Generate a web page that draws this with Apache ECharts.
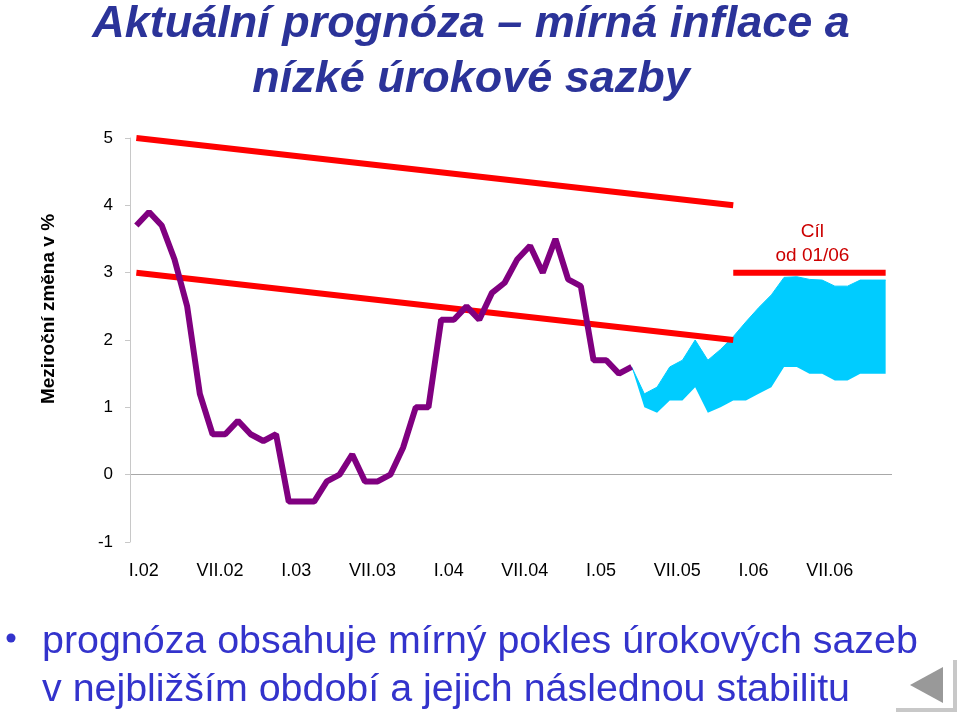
<!DOCTYPE html>
<html>
<head>
<meta charset="utf-8">
<script src="https://cdn.jsdelivr.net/npm/echarts@6/dist/echarts.min.js"></script>
<style>
html,body{margin:0;padding:0;background:#fff;}
#chart{width:960px;height:714px;}
</style>
</head>
<body>
<div id="chart"></div>
<script>
// ---- data ----
var months = [
 'I.02','II.02','III.02','IV.02','V.02','VI.02','VII.02','VIII.02','IX.02','X.02','XI.02','XII.02',
 'I.03','II.03','III.03','IV.03','V.03','VI.03','VII.03','VIII.03','IX.03','X.03','XI.03','XII.03',
 'I.04','II.04','III.04','IV.04','V.04','VI.04','VII.04','VIII.04','IX.04','X.04','XI.04','XII.04',
 'I.05','II.05','III.05','IV.05','V.05','VI.05','VII.05','VIII.05','IX.05','X.05','XI.05','XII.05',
 'I.06','II.06','III.06','IV.06','V.06','VI.06','VII.06','VIII.06','IX.06','X.06','XI.06','XII.06'
];
var inflation = [3.7,3.9,3.7,3.2,2.5,1.2,0.6,0.6,0.8,0.6,0.5,0.6,
                 -0.4,-0.4,-0.4,-0.1,0.0,0.3,-0.1,-0.1,0.0,0.4,1.0,1.0,
                 2.3,2.3,2.5,2.3,2.7,2.85,3.2,3.4,3.0,3.5,2.9,2.8,
                 1.7,1.7,1.5,1.6];
var bandStart = 39;
var bandUpper = [1.6,1.2,1.3,1.6,1.7,2.0,1.7,1.86,2.05,2.27,2.48,2.67,2.93,2.94,2.9,2.89,2.8,2.8,2.89,2.89,2.89];
var bandLower = [1.6,1.0,0.92,1.1,1.1,1.3,0.92,1.0,1.1,1.1,1.2,1.3,1.6,1.6,1.5,1.5,1.4,1.4,1.5,1.5,1.5];
var corridorUpper = [[0,5.0],[47,4.0]];
var corridorLower = [[0,3.0],[47,2.0]];
var targetStart = 47, targetEnd = 59, targetValue = 3.0, targetLabelIdx = 53;
var targetText = 'Cíl\nod 01/06';

// ---- derived arrays for the library ----
var n = months.length;
var lowerArr = [], diffArr = [], targetArr = [];
for (var i = 0; i < n; i++) {
  var k = i - bandStart;
  if (k >= 0 && k < bandUpper.length) {
    lowerArr.push(bandLower[k]);
    diffArr.push(+(bandUpper[k] - bandLower[k]).toFixed(3));
  } else { lowerArr.push(null); diffArr.push(null); }
  targetArr.push(i >= targetStart && i <= targetEnd ? targetValue : null);
}

var chart = echarts.init(document.getElementById('chart'));
var FONT = 'Liberation Sans, Arial, sans-serif';
chart.setOption({
  animation: false,
  backgroundColor: '#fff',
  grid: {left: 130, right: 68, top: 138, bottom: 172},
  xAxis: {
    type: 'category',
    data: months,
    boundaryGap: true,
    axisLine: {show: false},
    axisTick: {show: false},
    axisLabel: {
      interval: 5, color: '#000', fontFamily: FONT, fontSize: 18,
      margin: 20, padding: [0, 0, 0, 15]
    },
    splitLine: {show: false}
  },
  yAxis: {
    type: 'value', min: -1, max: 5, interval: 1,
    axisLine: {show: true, lineStyle: {color: '#c8c8c8', width: 1}},
    axisTick: {show: true, length: 5, lineStyle: {color: '#c8c8c8'}},
    axisLabel: {color: '#000', fontFamily: FONT, fontSize: 17, margin: 17},
    splitLine: {show: false}
  },
  series: [
    {
      type: 'line', name: 'band-lower', data: lowerArr, stack: 'band',
      symbol: 'none', lineStyle: {width: 0, opacity: 0}, silent: true, z: 1
    },
    {
      type: 'line', name: 'band', data: diffArr, stack: 'band',
      symbol: 'none', lineStyle: {width: 1, color: '#00ccff'},
      areaStyle: {color: '#00ccff', opacity: 1}, silent: true, z: 1
    },
    {
      type: 'line', name: 'horní mez', data: corridorUpper, symbol: 'none',
      lineStyle: {color: '#ff0000', width: 6}, z: 3
    },
    {
      type: 'line', name: 'dolní mez', data: corridorLower, symbol: 'none',
      lineStyle: {color: '#ff0000', width: 6}, z: 3
    },
    {
      type: 'line', name: 'cíl', data: targetArr, symbol: 'none',
      lineStyle: {color: '#ff0000', width: 6}, z: 3,
      markPoint: {
        silent: true, symbol: 'circle', symbolSize: 1,
        itemStyle: {color: 'rgba(0,0,0,0)'},
        data: [{coord: [targetLabelIdx, targetValue]}],
        label: {
          show: true, position: 'top', distance: 4, offset: [3, 0],
          formatter: targetText, color: '#cc0000', fontFamily: FONT,
          fontSize: 19, lineHeight: 24, align: 'center'
        }
      }
    },
    {
      type: 'line', name: 'inflace', data: inflation, symbol: 'none',
      lineStyle: {color: '#800080', width: 6}, z: 4,
      markLine: {
        silent: true, symbol: 'none', label: {show: false},
        lineStyle: {color: '#a8a8a8', width: 1, type: 'solid'},
        data: [{yAxis: 0}], z: 0
      }
    }
  ],
  graphic: [
    {type: 'text', x: 471, y: -3,
     style: {text: 'Aktuální prognóza – mírná inflace a\nnízké úrokové sazby', font: 'italic bold 45px ' + FONT,
             fill: '#2b3399', textAlign: 'center', textVerticalAlign: 'top', lineHeight: 55}},
    {type: 'text', x: 49, y: 309, rotation: Math.PI / 2,
     style: {text: 'Meziroční změna v %', font: 'bold 19px ' + FONT, fill: '#000',
             textAlign: 'center', textVerticalAlign: 'middle'}},
    {type: 'circle', shape: {cx: 11, cy: 638, r: 4.5}, style: {fill: '#3333cc'}},
    {type: 'text', left: 42, top: 618,
     style: {text: 'prognóza obsahuje mírný pokles úrokových sazeb\nv nejbližším období a jejich následnou stabilitu',
             font: '39.4px ' + FONT, fill: '#3333cc', lineHeight: 48}},
    {type: 'polygon', shape: {points: [[910, 685], [943, 667], [943, 703]]}, style: {fill: '#999999'}},
    {type: 'polyline', shape: {points: [[955, 660], [955, 710], [896, 710]]}, style: {stroke: '#c8c8c8', lineWidth: 4, fill: null}}
  ]
});
</script>
</body>
</html>
